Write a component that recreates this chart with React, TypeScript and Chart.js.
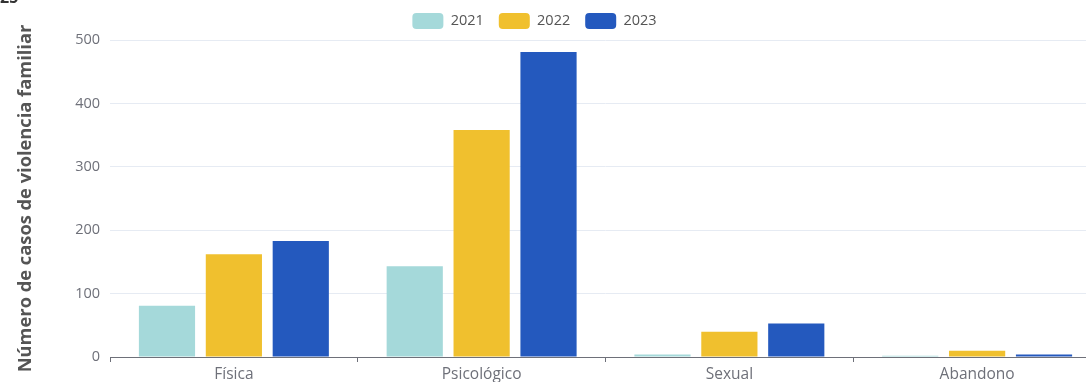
import React, { useEffect, useRef } from "react";
import { Chart, registerables } from "chart.js";

Chart.register(...registerables);

const categories = ["Física", "Psicológico", "Sexual", "Abandono"];
const seriesLabels = ["2021", "2022", "2023"];
const values2021 = [81, 143, 4, 2];
const values2022 = [162, 358, 40, 10];
const values2023 = [183, 481, 53, 4];
const yTicks = [0, 100, 200, 300, 400, 500];
const colors = ["#A5D9DA", "#F0C02E", "#2459BE"];
const yTitle = "Número de casos de violencia familiar";

export default function App() {
  const ref = useRef<HTMLCanvasElement | null>(null);
  useEffect(() => {
    if (!ref.current) return;
    const font = "'Open Sans', 'Noto Sans', sans-serif";
    const legendFit = {
      id: "legendFit",
      beforeInit(chart: any) {
        const orig = chart.legend.fit;
        chart.legend.fit = function () {
          orig.bind(chart.legend)();
          this.height = 37;
        };
      },
      afterLayout(chart: any) {
        const lg = chart.legend;
        lg.top = lg.top - 5;
        lg.left = lg.left - 16;
        lg.right = lg.right - 16;
      },
    };
    const chart = new Chart(ref.current, {
      type: "bar",
      data: {
        labels: categories,
        datasets: [values2021, values2022, values2023].map((d, i) => ({
          label: seriesLabels[i],
          data: d,
          backgroundColor: colors[i],
          borderWidth: 0,
          categoryPercentage: 0.81,
          barPercentage: 0.84,
        })),
      },
      options: {
        animation: false,
        responsive: false,
        maintainAspectRatio: false,
        layout: { padding: { top: 3, left: 0, right: 0, bottom: 0 } },
        plugins: {
          tooltip: { enabled: false },
          legend: {
            position: "top",
            labels: {
              boxWidth: 31,
              boxHeight: 16,
              useBorderRadius: true,
              borderRadius: 4,
              padding: 15,
              color: "#555",
              font: { family: font, size: 14.5 },
            },
          },
        },
        scales: {
          x: {
            afterFit(scale: any) {
              scale.height = 25;
            },
            grid: {
              offset: true,
              drawOnChartArea: false,
              drawTicks: true,
              tickLength: 5,
              color: "#6E7079",
            },
            border: { color: "#6E7079", width: 1 },
            ticks: {
              color: "#6E7079",
              padding: 3,
              font: { family: font, size: 15.5 },
            },
          },
          y: {
            min: 0,
            max: 500,
            afterFit(scale: any) {
              scale.width = 110;
            },
            afterBuildTicks(scale: any) {
              scale.ticks = yTicks.map((v) => ({ value: v }));
            },
            border: { display: false },
            grid: { color: "#E6EBF3", drawTicks: false },
            ticks: {
              color: "#6E7079",
              padding: 10,
              font: { family: font, size: 14.5 },
            },
            title: {
              display: true,
              text: yTitle,
              color: "#555",
              padding: { top: 15, bottom: 0 },
              font: { family: font, size: 18.3, weight: "bold" },
            },
          },
        },
      },
      plugins: [legendFit],
    });
    return () => chart.destroy();
  }, []);
  return (
    <div
      style={{
        position: "absolute",
        left: 0,
        top: 0,
        width: 1086,
        height: 382,
        overflow: "hidden",
        background: "#fff",
      }}
    >
      <div
        style={{
          position: "absolute",
          left: 0,
          top: -11,
          fontFamily: "'Open Sans', sans-serif",
          fontWeight: "bold",
          fontSize: 16,
          lineHeight: "16px",
          color: "#333",
        }}
      >
        25
      </div>
      <canvas ref={ref} width={1101} height={382} style={{ display: "block" }} />
    </div>
  );
}
